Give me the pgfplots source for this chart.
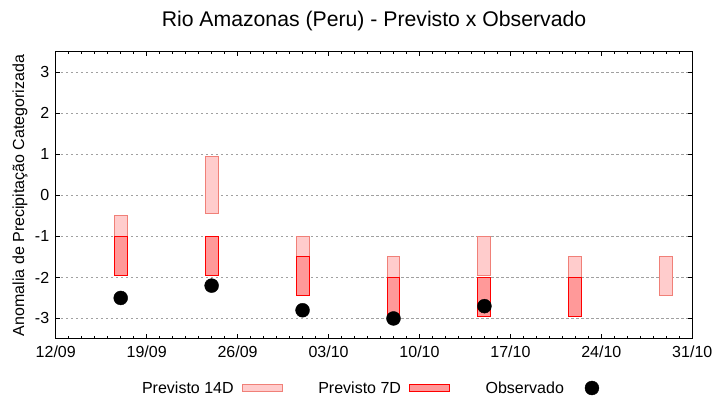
\documentclass[border=0pt]{standalone}
\usepackage{fontspec}
\setmainfont{Liberation Sans}
\usepackage{pgfplots}
\pgfplotsset{compat=1.18}

\definecolor{f14}{HTML}{FFCCCC}
\definecolor{e14}{HTML}{F08078}
\definecolor{f7}{HTML}{FF9999}
\definecolor{e7}{HTML}{FF0000}
\definecolor{gridgray}{HTML}{A0A0A0}

\pgfplotsset{
    boxleg/.style={legend image code/.code={\draw[##1] (0bp,-3.3bp) rectangle (40bp,3.3bp);}},
    dotleg/.style={legend image code/.code={\path[draw=none] (0bp,0bp) -- (40bp,0bp);
        \draw[##1] plot[only marks] coordinates {(20bp,0bp)};}},
}

\begin{document}
\begin{tikzpicture}
\begin{axis}[
    scale only axis,
    width=636bp, height=287bp,
    xmin=0, xmax=49,
    ymin=-3.5, ymax=3.5,
    xtick={0,7,...,49},
    xticklabels={12/09,19/09,26/09,03/10,10/10,17/10,24/10,31/10},
    minor x tick num=6,
    ytick={-3,...,3},
    tick align=inside,
    major tick length=4.5bp,
    minor tick length=2.5bp,
    axis line style={line width=1bp},
    every tick/.style={black, line width=1bp},
    ymajorgrids=true,
    grid style={gridgray, line width=1bp, dash pattern=on 2.5bp off 2.5bp},
    font=\fontsize{16bp}{19bp}\selectfont,
    /pgf/number format/assume math mode=true,
    xticklabel style={yshift=-3bp},
    yticklabel style={xshift=-3bp},
    title={Rio Amazonas (Peru) - Previsto x Observado},
    title style={font=\fontsize{21.2bp}{25bp}\selectfont, at={(0.5,1)}, anchor=base, yshift=19bp},
    ylabel={Anomalia de Precipitação Categorizada},
    ylabel style={at={(axis description cs:-0.056,0.5)}, anchor=center},
    legend columns=3,
    legend plot pos=right,
    legend style={draw=none, fill=none, at={(axis description cs:0.5,0)}, anchor=center,
        yshift=-49bp, xshift=2bp,
        /tikz/every odd column/.append style={column sep=6bp},
        /tikz/every even column/.append style={column sep=33.5bp}},
]
% legenda
\addlegendimage{area legend, fill=f14, draw=e14, line width=1bp, boxleg}
\addlegendentry{Previsto 14D}
\addlegendimage{area legend, fill=f7, draw=e7, line width=1bp, boxleg}
\addlegendentry{Previsto 7D}
\addlegendimage{only marks, mark=*, black, mark size=7pt, dotleg}
\addlegendentry{Observado}

% Previsto 14D
\addplot[forget plot, fill=f14, draw=e14, line width=1bp] coordinates {(4.5,-0.5)(5.5,-0.5)(5.5,-1.45)(4.5,-1.45)} -- cycle;
\addplot[forget plot, fill=f14, draw=e14, line width=1bp] coordinates {(11.5,0.95)(12.5,0.95)(12.5,-0.45)(11.5,-0.45)} -- cycle;
\addplot[forget plot, fill=f14, draw=e14, line width=1bp] coordinates {(18.5,-1)(19.5,-1)(19.5,-1.95)(18.5,-1.95)} -- cycle;
\addplot[forget plot, fill=f14, draw=e14, line width=1bp] coordinates {(25.5,-1.5)(26.5,-1.5)(26.5,-2.45)(25.5,-2.45)} -- cycle;
\addplot[forget plot, fill=f14, draw=e14, line width=1bp] coordinates {(32.5,-1)(33.5,-1)(33.5,-1.95)(32.5,-1.95)} -- cycle;
\addplot[forget plot, fill=f14, draw=e14, line width=1bp] coordinates {(39.5,-1.5)(40.5,-1.5)(40.5,-2.45)(39.5,-2.45)} -- cycle;
\addplot[forget plot, fill=f14, draw=e14, line width=1bp] coordinates {(46.5,-1.5)(47.5,-1.5)(47.5,-2.45)(46.5,-2.45)} -- cycle;

% Previsto 7D
\addplot[forget plot, fill=f7, draw=e7, line width=1bp] coordinates {(4.5,-1)(5.5,-1)(5.5,-1.95)(4.5,-1.95)} -- cycle;
\addplot[forget plot, fill=f7, draw=e7, line width=1bp] coordinates {(11.5,-1)(12.5,-1)(12.5,-1.95)(11.5,-1.95)} -- cycle;
\addplot[forget plot, fill=f7, draw=e7, line width=1bp] coordinates {(18.5,-1.5)(19.5,-1.5)(19.5,-2.45)(18.5,-2.45)} -- cycle;
\addplot[forget plot, fill=f7, draw=e7, line width=1bp] coordinates {(25.5,-2)(26.5,-2)(26.5,-2.95)(25.5,-2.95)} -- cycle;
\addplot[forget plot, fill=f7, draw=e7, line width=1bp] coordinates {(32.5,-2)(33.5,-2)(33.5,-2.95)(32.5,-2.95)} -- cycle;
\addplot[forget plot, fill=f7, draw=e7, line width=1bp] coordinates {(39.5,-2)(40.5,-2)(40.5,-2.95)(39.5,-2.95)} -- cycle;

% Observado
\addplot[forget plot, only marks, mark=*, black, mark size=7pt] coordinates {
    (5,-2.5) (12,-2.2) (19,-2.8) (26,-3.0) (33,-2.7)
};
\end{axis}
\pgfresetboundingbox
\path (current axis.south west) ++(-55.7bp,-61bp) coordinate (bl);
\path (current axis.north east) ++(27.7bp,51.7bp) coordinate (tr);
\path[use as bounding box] (bl) rectangle (tr);
\end{tikzpicture}
\end{document}
